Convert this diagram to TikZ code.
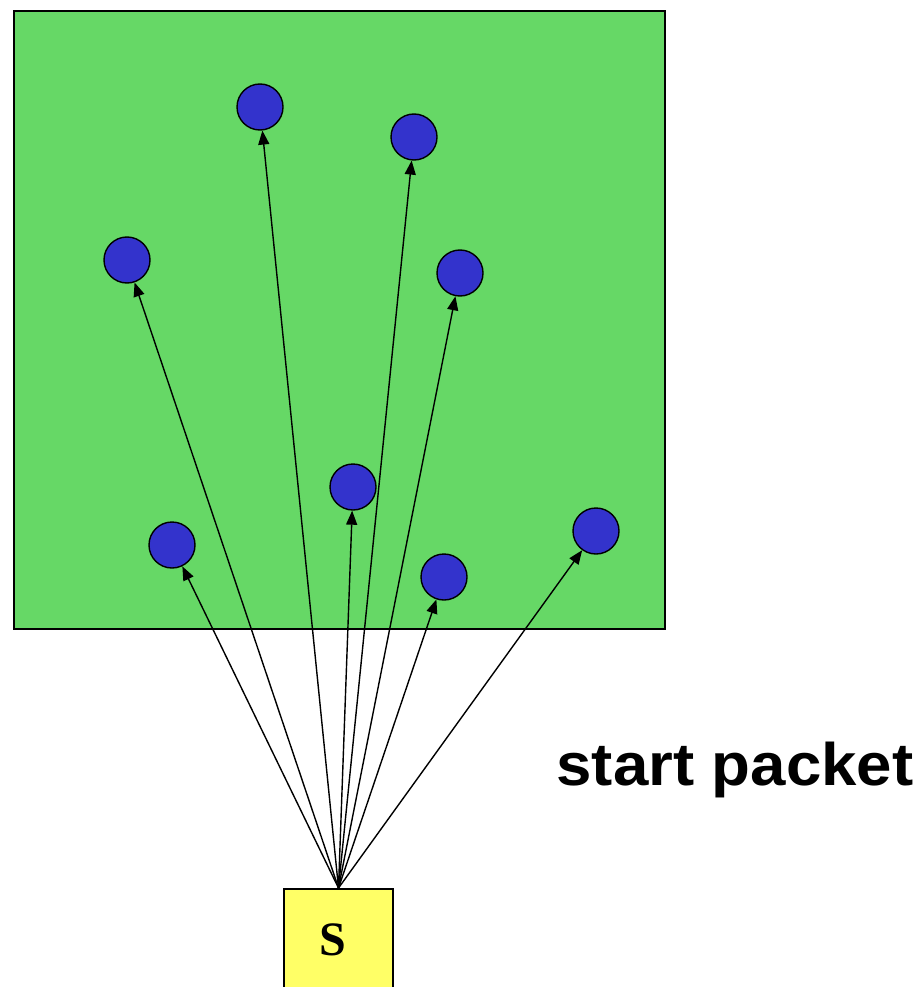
\documentclass[tikz,border=0pt]{standalone}
\usepackage{fontspec}
\setmainfont{Liberation Serif}
\newfontfamily\labelfont{Liberation Sans}
\usetikzlibrary{arrows.meta}
\definecolor{fieldgreen}{RGB}{102,216,102}
\definecolor{nodeblue}{RGB}{51,51,204}
\definecolor{boxyellow}{RGB}{255,255,102}
\tikzset{
  sensor/.style={circle, fill=nodeblue, draw=black, line width=1.4pt, minimum size=46pt, inner sep=0pt},
  ray/.style={line width=1.4pt, -{Triangle[length=14pt,width=11pt]}},
  srcbox/.style={draw=black, fill=boxyellow, line width=1.8pt, minimum width=109pt, minimum height=110pt, inner sep=0pt, anchor=north}
}
\begin{document}
\begin{tikzpicture}[x=1pt,y=-1pt]
\useasboundingbox (0,0) rectangle (920,987);
\node[draw=black, fill=fieldgreen, line width=2pt, minimum width=651pt, minimum height=618pt, inner sep=0pt, anchor=north west] (field) at (13,10) {};
\node[sensor] (n1) at (260,107) {};
\node[sensor] (n2) at (414,137) {};
\node[sensor] (n3) at (127,260) {};
\node[sensor] (n4) at (460,273) {};
\node[sensor] (n5) at (353,487) {};
\node[sensor] (n6) at (172,545) {};
\node[sensor] (n7) at (444,577) {};
\node[sensor] (n8) at (596,531) {};
\node[srcbox] (s) at (338.5,888) {};
\node[font=\fontsize{48}{48}\selectfont\bfseries] (sl) at (333,940) {S};
\foreach \t in {n1,n2,n3,n4,n5,n6,n7,n8}
  \draw[ray] (s.north) -- (\t);
\node[font=\labelfont\fontsize{60}{60}\selectfont\bfseries, anchor=base, inner sep=0pt] (lbl) at (735,785) {\scalebox{1.06}[1]{start packet}};
\end{tikzpicture}
\end{document}
